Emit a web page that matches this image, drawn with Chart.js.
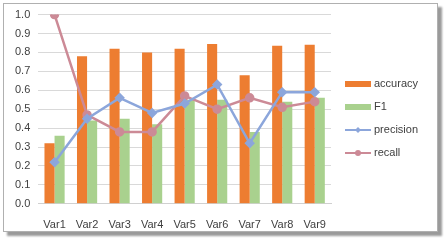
<!DOCTYPE html>
<html>
<head>
<meta charset="utf-8">
<script src="https://cdn.jsdelivr.net/npm/chart.js@4/dist/chart.umd.min.js"></script>
<style>
  body { margin: 0; background: #fff; }
  #frame {
    position: absolute; left: 3px; top: 3px; width: 433px; height: 227px;
    border: 1px solid #b0b0b0; background: #fff;
    box-shadow: 4px 4px 2px #9a9a9a;
  }
  #chart { position: absolute; left: 0; top: 0; }
</style>
</head>
<body>
<div id="frame"></div>
<canvas id="chart" width="445" height="240"></canvas>
<script>
// Chart data
const categories = ['Var1', 'Var2', 'Var3', 'Var4', 'Var5', 'Var6', 'Var7', 'Var8', 'Var9'];
const accuracy = [0.32, 0.78, 0.82, 0.80, 0.82, 0.845, 0.68, 0.835, 0.84];
const f1 = [0.36, 0.44, 0.45, 0.42, 0.55, 0.55, 0.38, 0.54, 0.56];
const precision = [0.22, 0.45, 0.56, 0.48, 0.53, 0.63, 0.32, 0.59, 0.59];
const recall = [1.0, 0.47, 0.38, 0.38, 0.57, 0.50, 0.56, 0.51, 0.54];

const colors = {
    accuracy: '#ED7D31',
    f1: '#A9D18E',
    precision: '#8CA6DB',
    recall: '#CC8A96'
};

// Excel-like legend drawn on the right
const sideLegend = {
    id: 'sideLegend',
    afterDraw(chart) {
        const ctx = chart.ctx;
        const items = [
            { text: 'accuracy', type: 'bar', color: colors.accuracy },
            { text: 'F1', type: 'bar', color: colors.f1 },
            { text: 'precision', type: 'line', color: colors.precision, marker: 'diamond' },
            { text: 'recall', type: 'line', color: colors.recall, marker: 'circle' }
        ];
        const x = 345;
        let y = 84;
        ctx.save();
        ctx.font = '11px "Liberation Sans", Arial, sans-serif';
        ctx.textBaseline = 'middle';
        items.forEach(item => {
            if (item.type === 'bar') {
                ctx.fillStyle = item.color;
                ctx.fillRect(x, y - 3, 26, 6);
            } else {
                ctx.strokeStyle = item.color;
                ctx.lineWidth = 2;
                ctx.beginPath();
                ctx.moveTo(x, y);
                ctx.lineTo(x + 26, y);
                ctx.stroke();
                ctx.fillStyle = item.color;
                ctx.beginPath();
                if (item.marker === 'diamond') {
                    ctx.moveTo(x + 13, y - 3);
                    ctx.lineTo(x + 16, y);
                    ctx.lineTo(x + 13, y + 3);
                    ctx.lineTo(x + 10, y);
                } else {
                    ctx.arc(x + 13, y, 3, 0, Math.PI * 2);
                }
                ctx.fill();
            }
            ctx.fillStyle = '#404040';
            ctx.fillText(item.text, x + 29, y);
            y += 23;
        });
        ctx.restore();
    }
};

new Chart(document.getElementById('chart'), {
    data: {
        labels: categories,
        datasets: [
            { type: 'line', label: 'precision', data: precision, borderColor: colors.precision, backgroundColor: colors.precision,
              borderWidth: 2.5, pointStyle: 'rectRot', pointRadius: 3.5, tension: 0, order: 1 },
            { type: 'line', label: 'recall', data: recall, borderColor: colors.recall, backgroundColor: colors.recall,
              borderWidth: 2.5, pointStyle: 'circle', pointRadius: 3.5, tension: 0, order: 2 },
            { type: 'bar', label: 'accuracy', data: accuracy, backgroundColor: colors.accuracy,
              categoryPercentage: 0.62, barPercentage: 1.0, order: 3 },
            { type: 'bar', label: 'F1', data: f1, backgroundColor: colors.f1,
              categoryPercentage: 0.62, barPercentage: 1.0, order: 4 }
        ]
    },
    options: {
        responsive: false,
        animation: false,
        layout: { padding: { left: 7, top: 13, right: 114, bottom: 1 } },
        plugins: {
            legend: { display: false },
            tooltip: { enabled: false }
        },
        scales: {
            x: {
                grid: { display: false },
                border: { color: '#d0d0d0' },
                ticks: { color: '#404040', font: { size: 11, family: '"Liberation Sans", Arial, sans-serif' }, padding: 7 }
            },
            y: {
                min: 0, max: 1,
                ticks: { stepSize: 0.1, color: '#404040', padding: 8,
                         font: { size: 11, family: '"Liberation Sans", Arial, sans-serif' },
                         callback: v => v.toFixed(1) },
                grid: { color: '#d9d9d9', drawTicks: false },
                border: { display: false }
            }
        }
    },
    plugins: [sideLegend]
});
</script>
</body>
</html>
